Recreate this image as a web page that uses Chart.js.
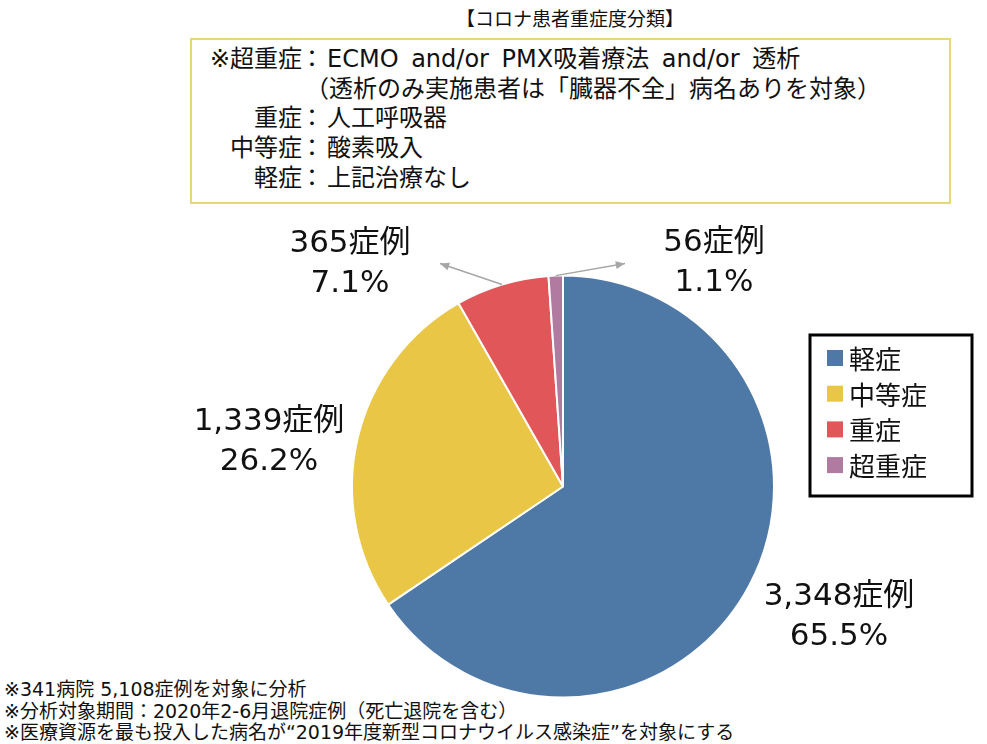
<!DOCTYPE html>
<html>
<head>
<meta charset="utf-8">
<script src="https://cdn.jsdelivr.net/npm/chart.js@4"></script>
<style>
  body { margin: 0; background: #fff; font-family: "DejaVu Sans", "Noto Sans CJK JP", sans-serif; color: #111; }
  #wrap { position: relative; width: 987px; height: 744px; overflow: hidden; }
  #chart { position: absolute; left: 0; top: 0; }
  .title { position: absolute; left: 0; width: 1140px; top: 4px; text-align: center; font-size: 19px; font-family: "Noto Sans CJK JP", sans-serif; }
  .defs { position: absolute; left: 190px; top: 38px; width: 761px; height: 166px; border: 2px solid #e8d67c; box-sizing: border-box; }
  .row { position: absolute; left: 0; height: 30px; line-height: 30px; font-size: 24px; white-space: nowrap; }
  .row .lab { position: absolute; right: -110px; width: 200px; text-align: right; }
  .row .col { position: absolute; left: 108px; }
  .row .txt { position: absolute; left: 135px; }
  .notes { position: absolute; left: 4px; top: 679px; font-size: 19px; line-height: 21.5px; white-space: nowrap; }
</style>
</head>
<body>
<div id="wrap">
  <div class="title">【コロナ患者重症度分類】</div>
  <div class="defs">
    <div class="row" style="top:4px;"><span class="lab">※超重症</span><span class="col">：</span><span class="txt" style="word-spacing:5px;">ECMO and/or PMX吸着療法 and/or 透析</span></div>
    <div class="row" style="top:34px;"><span class="txt" style="left:113px;">（透析のみ実施患者は「臓器不全」病名ありを対象）</span></div>
    <div class="row" style="top:63px;"><span class="lab">重症</span><span class="col">：</span><span class="txt">人工呼吸器</span></div>
    <div class="row" style="top:93px;"><span class="lab">中等症</span><span class="col">：</span><span class="txt">酸素吸入</span></div>
    <div class="row" style="top:123px;"><span class="lab">軽症</span><span class="col">：</span><span class="txt">上記治療なし</span></div>
  </div>
  <div class="notes">
    ※341病院 5,108症例を対象に分析<br>
    ※分析対象期間：2020年2-6月退院症例（死亡退院を含む）<br>
    ※医療資源を最も投入した病名が“2019年度新型コロナウイルス感染症”を対象にする
  </div>
  <canvas id="chart" width="987" height="744"></canvas>
</div>
<script>
const categories = ['軽症', '中等症', '重症', '超重症'];
const cases = [3348, 1339, 365, 56];
const percents = ['65.5%', '26.2%', '7.1%', '1.1%'];
const colors = ['#4e79a7', '#e9c646', '#e15759', '#b07aa1'];

// label block centres, offset from the pie centre
const labelPos = [
  { dx: 276, dy: 130 },
  { dx: -294, dy: -45 },
  { dx: -213, dy: -223 },
  { dx: 151, dy: -224 }
];

const labelPlugin = {
  id: 'pieLabels',
  afterDraw(chart) {
    const ctx = chart.ctx;
    const meta = chart.getDatasetMeta(0);
    const arc0 = meta.data[0];
    const cx = arc0.x, cy = arc0.y, r = arc0.outerRadius;
    ctx.save();
    ctx.font = '31px "DejaVu Sans", "Noto Sans CJK JP"';
    ctx.fillStyle = '#111';
    ctx.textAlign = 'center';
    ctx.textBaseline = 'middle';
    cases.forEach((v, i) => {
      const x = cx + labelPos[i].dx, y = cy + labelPos[i].dy;
      ctx.fillText(v.toLocaleString('en-US') + '症例', x, y - 20);
      ctx.fillText(percents[i], x, y + 20);
    });

    // leader arrows for the two small slices
    ctx.strokeStyle = '#a6a6a6';
    ctx.fillStyle = '#a6a6a6';
    ctx.lineWidth = 1.5;
    [2, 3].forEach(i => {
      const a = meta.data[i];
      const mid = (a.startAngle + a.endAngle) / 2;
      const sx = cx + Math.cos(mid) * r;
      const sy = cy + Math.sin(mid) * r;
      const ex = i === 2 ? cx - 123 : cx + 62;
      const ey = cy - 223;
      ctx.beginPath();
      ctx.moveTo(sx, sy);
      ctx.lineTo(ex, ey);
      ctx.stroke();
      const ang = Math.atan2(ey - sy, ex - sx);
      ctx.beginPath();
      ctx.moveTo(ex, ey);
      ctx.lineTo(ex - 10 * Math.cos(ang - 0.4), ey - 10 * Math.sin(ang - 0.4));
      ctx.lineTo(ex - 10 * Math.cos(ang + 0.4), ey - 10 * Math.sin(ang + 0.4));
      ctx.closePath();
      ctx.fill();
    });

    // legend box
    const lx = 810, ly = 335, lw = 162, lh = 161;
    ctx.lineWidth = 3;
    ctx.strokeStyle = '#000';
    ctx.strokeRect(lx, ly, lw, lh);
    ctx.font = '26px "Noto Sans CJK JP"';
    ctx.textAlign = 'left';
    categories.forEach((c, i) => {
      const y = ly + 23 + i * 35.7;
      ctx.fillStyle = colors[i];
      ctx.fillRect(lx + 17, y - 8, 16, 16);
      ctx.fillStyle = '#111';
      ctx.fillText(c, lx + 39, y + 1);
    });
    ctx.restore();
  }
};

new Chart(document.getElementById('chart'), {
  type: 'pie',
  data: {
    labels: categories,
    datasets: [{
      data: cases,
      backgroundColor: colors,
      borderColor: '#fff',
      borderWidth: 2
    }]
  },
  options: {
    responsive: false,
    animation: false,
    layout: { padding: { left: 351, top: 274, right: 212, bottom: 45 } },
    plugins: { legend: { display: false }, tooltip: { enabled: false } }
  },
  plugins: [labelPlugin]
});
</script>
</body>
</html>
